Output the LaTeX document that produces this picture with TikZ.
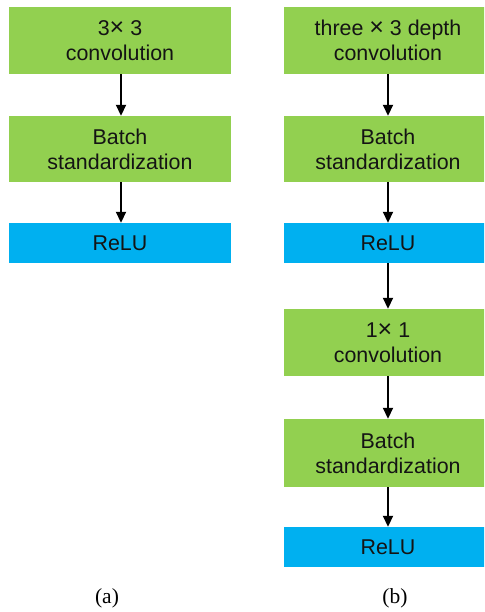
\documentclass[tikz,border=0pt]{standalone}
\usepackage{fontspec}
\setmainfont{Liberation Sans}
\newfontfamily\capfont{Liberation Serif}
\usetikzlibrary{arrows.meta}
\definecolor{boxgreen}{HTML}{92D050}
\definecolor{boxblue}{HTML}{00B0F0}
\definecolor{txt}{HTML}{141414}
\newcommand{\bigx}{{\fontsize{25}{25}\selectfont\texttimes}}
\begin{document}
\begin{tikzpicture}[x=1pt,y=-1pt,
  blk/.style={inner sep=0pt, align=center, text=txt,
    font=\fontsize{21.4}{25}\selectfont},
  gbox/.style={blk, fill=boxgreen, minimum height=67pt},
  bbox/.style={blk, fill=boxblue, minimum height=40pt},
  lw/.style={minimum width=222pt},
  rw/.style={minimum width=208pt},
  arr/.style={draw=black, line width=1.8pt, -{Triangle[length=11pt,width=10pt]}},
  captxt/.style={font=\capfont\fontsize{21.5}{24}\selectfont, inner sep=0pt}]
\useasboundingbox (0,0) rectangle (484,612);
\clip (0,0) rectangle (484,612);
% column (a)
\node[gbox,lw] (a1) at (120,40.5) {3\bigx\ 3\\convolution};
\node[gbox,lw,minimum height=66pt] (a2) at (120,149) {Batch\\standardization};
\node[bbox,lw] (a3) at (120,243) {ReLU};
% column (b)
\node[gbox,rw] (b1) at (388,40.5) {three \bigx\ 3 depth\\convolution};
\node[gbox,rw,minimum height=66pt] (b2) at (388,149) {Batch\\standardization};
\node[bbox,rw] (b3) at (388,243) {ReLU};
\node[gbox,rw] (b4) at (388,342.5) {1\bigx\ 1\\convolution};
\node[gbox,rw,minimum height=68pt] (b5) at (388,453) {Batch\\standardization};
\node[bbox,rw] (b6) at (388,547) {ReLU};
% arrows
\draw[arr] (a1.south -| 121,0) -- (a2.north -| 121,0);
\draw[arr] (a2.south -| 121,0) -- (a3.north -| 121,0);
\draw[arr] (b1) -- (b2);
\draw[arr] (b2) -- (b3);
\draw[arr] (b3) -- (b4);
\draw[arr] (b4) -- (b5);
\draw[arr] (b5) -- (b6);
% captions
\node[captxt] (ca) at (107,598) {(a)};
\node[captxt] (cb) at (395,598) {(b)};
\end{tikzpicture}
\end{document}
